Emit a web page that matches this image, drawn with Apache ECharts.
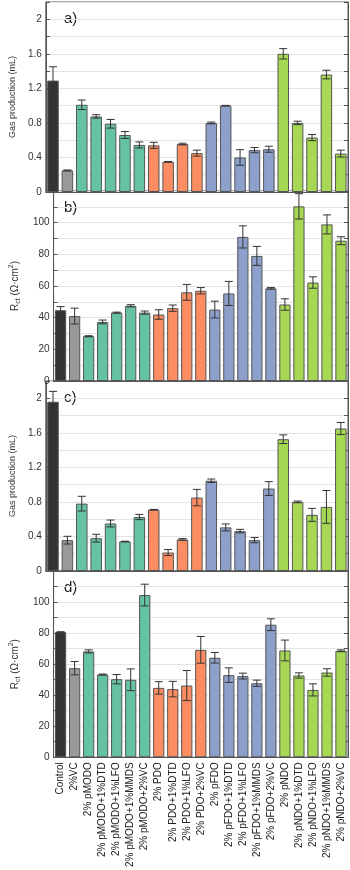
<!DOCTYPE html>
<html>
<head>
<meta charset="utf-8">
<script src="https://cdn.jsdelivr.net/npm/echarts@6/dist/echarts.min.js"></script>
<style>
  html, body { margin: 0; padding: 0; background: #fff; }
  #main { width: 350px; height: 870px; }
</style>
</head>
<body>
<div id="main"></div>
<script>
// categories (bottom axis)
var categories = ['Control', '2%VC', '2% pMODO', '2% pMODO+1%DTD', '2% pMODO+1%LFO',
  '2% pMODO+1%MMDS', '2% pMODO+2%VC', '2% PDO', '2% PDO+1%DTD', '2% PDO+1%LFO',
  '2% PDO+2%VC', '2% pFDO', '2% pFDO+1%DTD', '2% pFDO+1%LFO', '2% pFDO+1%MMDS',
  '2% pFDO+2%VC', '2% pNDO', '2% pNDO+1%DTD', '2% pNDO+1%LFO', '2% pNDO+1%MMDS',
  '2% pNDO+2%VC'];

// a) gas production (mL)
var gasA    = [1.29, 0.25, 1.01, 0.875, 0.79, 0.66, 0.545, 0.54, 0.35, 0.555, 0.45,
               0.80, 1.0, 0.40, 0.485, 0.495, 1.60, 0.80, 0.63, 1.36, 0.445];
var gasAErr = [0.16, 0.005, 0.055, 0.02, 0.05, 0.04, 0.035, 0.035, 0.003, 0.01, 0.035,
               0.01, 0.003, 0.09, 0.03, 0.035, 0.06, 0.02, 0.035, 0.05, 0.04];

// b) Rct
var rctB    = [44.7, 41, 28.3, 37.3, 43.2, 47.5, 43.2, 42, 46, 56, 57,
               45.1, 55.3, 91, 79, 58.5, 48.3, 110.3, 62.2, 98.9, 88.6];
var rctBErr = [2.3, 5, 0.3, 1.2, 0.3, 0.7, 1, 3, 2, 5, 2,
               5.3, 7.6, 7, 6, 0.5, 3.6, 8, 3.6, 6, 2.5];

// c) gas production (mL)
var gasC    = [1.96, 0.357, 0.78, 0.38, 0.55, 0.342, 0.625, 0.71, 0.214, 0.365, 0.85,
               1.045, 0.505, 0.462, 0.357, 0.955, 1.526, 0.80, 0.65, 0.742, 1.65];
var gasCErr = [0.12, 0.045, 0.085, 0.045, 0.04, 0.003, 0.03, 0.003, 0.035, 0.01, 0.095,
               0.02, 0.04, 0.02, 0.03, 0.08, 0.05, 0.01, 0.075, 0.19, 0.07];

// d) Rct
var rctD    = [80.6, 57.4, 68.2, 53.3, 50.3, 49.9, 104.5, 44.7, 43.9, 46.2, 69.2,
               64.1, 52.9, 52.3, 47.7, 85.4, 68.8, 52.7, 43.4, 54.6, 68.6];
var rctDErr = [0.3, 4.3, 1, 0.3, 3, 7, 7, 4, 5, 9.7, 8.6,
               3.4, 4.7, 1.9, 2, 3.8, 6.7, 1.7, 3.9, 2.4, 0.6];

var panelLetters = ['a)', 'b)', 'c)', 'd)'];

// fill colour per category
var barColors = ['#333333', '#999999',
  '#66c2a5', '#66c2a5', '#66c2a5', '#66c2a5', '#66c2a5',
  '#fc8d62', '#fc8d62', '#fc8d62', '#fc8d62',
  '#8da0cb', '#8da0cb', '#8da0cb', '#8da0cb', '#8da0cb',
  '#a6d854', '#a6d854', '#a6d854', '#a6d854', '#a6d854'];

var panels = [
  { vals: gasA, errs: gasAErr, kind: 'gas' },
  { vals: rctB, errs: rctBErr, kind: 'rct' },
  { vals: gasC, errs: gasCErr, kind: 'gas' },
  { vals: rctD, errs: rctDErr, kind: 'rct' }
];

var tops = [2, 191, 381, 571];
var font = 'Liberation Sans, Arial, sans-serif';

var grid = [], xAxis = [], yAxis = [], series = [], graphic = [];

function errRender(params, api) {
  var i = api.value(0), v = api.value(1), e = api.value(2);
  var hi = api.coord([i, v + e]);
  var lo = api.coord([i, v - e]);
  var cap = 4;
  var st = { stroke: '#333', lineWidth: 1 };
  return {
    type: 'group',
    children: [
      { type: 'line', shape: { x1: hi[0], y1: hi[1], x2: lo[0], y2: lo[1] }, style: st },
      { type: 'line', shape: { x1: hi[0] - cap, y1: hi[1], x2: hi[0] + cap, y2: hi[1] }, style: st },
      { type: 'line', shape: { x1: lo[0] - cap, y1: lo[1], x2: lo[0] + cap, y2: lo[1] }, style: st }
    ]
  };
}

panels.forEach(function (p, k) {
  var gas = p.kind === 'gas';
  grid.push({ left: 40, right: 2, top: tops[k], height: 190, show: true,
    borderColor: '#555', borderWidth: 1, backgroundColor: 'transparent' });

  xAxis.push({
    type: 'category', gridIndex: k, data: categories,
    axisLine: { lineStyle: { color: '#555' } },
    axisTick: { show: false },
    axisLabel: k === 3 ? { rotate: 90, fontSize: 10, color: '#222', margin: 5, fontFamily: font, interval: 0 } : { show: false }
  });

  var yCommon = {
    type: 'value', gridIndex: k, min: 0, max: gas ? 2.2 : 120, interval: gas ? 0.2 : 10
  };
  yAxis.push(Object.assign({}, yCommon, {
    name: gas ? 'Gas production (mL)' : '{m|R}{sub|ct}{m| (Ω·cm}{sup|2}{m|)}',
    nameLocation: 'middle', nameGap: 25, nameRotate: 90,
    nameTextStyle: gas ? { fontSize: 9, color: '#333', fontFamily: font } : {
      color: '#333', fontFamily: font,
      rich: {
        m: { fontSize: 10, color: '#333', fontFamily: font, lineHeight: 14, verticalAlign: 'middle' },
        sub: { fontSize: 7, color: '#333', fontFamily: font, lineHeight: 14, verticalAlign: 'bottom' },
        sup: { fontSize: 7, color: '#333', fontFamily: font, lineHeight: 14, verticalAlign: 'top' }
      }
    },
    axisLine: { show: true, lineStyle: { color: '#555' } },
    axisTick: { show: true, inside: true, length: 4, lineStyle: { color: '#555' } },
    splitLine: { show: true, lineStyle: { color: '#e4e4e4' } },
    axisLabel: {
      fontSize: 10, color: '#333', fontFamily: font, margin: 4,
      formatter: function (v) {
        if (gas) {
          var t = Math.round(v * 10);
          return t % 4 === 0 ? String(t / 10) : '';
        }
        return (Math.round(v) % 20 === 0 && v < 120) ? String(Math.round(v)) : '';
      }
    }
  }));
  // mirrored right axis for inward ticks
  yAxis.push(Object.assign({}, yCommon, {
    position: 'right',
    axisLine: { show: true, lineStyle: { color: '#555' } },
    axisTick: { show: true, inside: true, length: 4, lineStyle: { color: '#555' } },
    splitLine: { show: false },
    axisLabel: { show: false }
  }));

  series.push({
    type: 'bar', xAxisIndex: k, yAxisIndex: 2 * k,
    data: p.vals, barWidth: '80%',
    itemStyle: {
      color: function (d) { return barColors[d.dataIndex]; },
      borderColor: '#555', borderWidth: 1
    },
    z: 2
  });
  series.push({
    type: 'custom', xAxisIndex: k, yAxisIndex: 2 * k,
    renderItem: errRender,
    encode: { x: 0, y: 1 },
    data: p.vals.map(function (v, i) { return [i, v, p.errs[i]]; }),
    z: 5, clip: false
  });

  graphic.push({
    type: 'text', left: 64, top: tops[k] + 9,
    style: { text: panelLetters[k], fontSize: 15, fill: '#222', font: '15px ' + font }
  });
});

var chart = echarts.init(document.getElementById('main'));
chart.setOption({
  animation: false,
  grid: grid,
  xAxis: xAxis,
  yAxis: yAxis,
  series: series,
  graphic: graphic
});
</script>
</body>
</html>
